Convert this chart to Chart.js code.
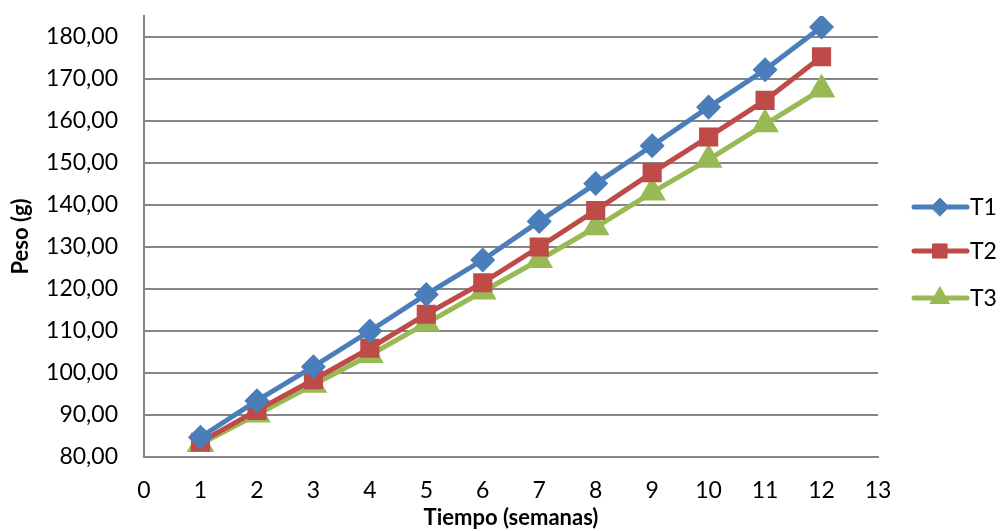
<!DOCTYPE html>
<html>
<head>
<meta charset="utf-8">
<script src="https://cdn.jsdelivr.net/npm/chart.js@4"></script>
<style>
  body { margin: 0; background: #fff; }
  #wrap { width: 1000px; height: 531px; }
</style>
</head>
<body>
<div id="wrap"><canvas id="lineChart"></canvas></div>
<script>
const semanas = [ 1, 2, 3, 4, 5, 6, 7, 8, 9, 10, 11, 12 ];
const t1 = [ 84.7, 93.4, 101.5, 110.0, 118.7, 126.9, 136.1, 145.1, 154.1, 163.3, 172.2, 182.4 ];
const t2 = [ 83.5, 91.1, 98.4, 105.9, 114.0, 121.5, 130.0, 138.7, 147.7, 156.2, 164.9, 175.3 ];
const t3 = [ 83.1, 90.1, 97.2, 104.3, 111.8, 119.4, 126.9, 134.7, 143.0, 150.8, 159.2, 167.5 ];
const yTicks = [ 80, 90, 100, 110, 120, 130, 140, 150, 160, 170, 180 ];

const font = 'Lato, "Liberation Sans", sans-serif';

function pts(vals) {
	return vals.map((v, i) => ({ x: semanas[i], y: v }));
}

// legend drawn by hand: line with marker in the middle
const sideLegend = {
	id: 'sideLegend',
	afterDraw(chart) {
		const ctx = chart.ctx;
		const rows = [ 207, 251, 298 ];
		chart.data.datasets.forEach((ds, i) => {
			const y = rows[i];
			ctx.save();
			ctx.strokeStyle = ds.borderColor;
			ctx.lineWidth = 5;
			ctx.lineCap = 'round';
			ctx.beginPath();
			ctx.moveTo(914, y);
			ctx.lineTo(967, y);
			ctx.stroke();
			ctx.fillStyle = ds.pointBackgroundColor;
			ctx.strokeStyle = ds.pointBorderColor;
			ctx.lineWidth = 1;
			Chart.helpers.drawPoint(ctx, { pointStyle: ds.pointStyle, radius: ds.pointRadius, borderWidth: 1 }, 940, y);
			ctx.fillStyle = '#000';
			ctx.font = '23px ' + font;
			ctx.textBaseline = 'middle';
			ctx.fillText(ds.label, 970, y + 1);
			ctx.restore();
		});
	}
};

const lineChart = new Chart(document.getElementById('lineChart').getContext('2d'), {
	type: 'line',
	data: {
		datasets: [
			{
				label: 'T1',
				data: pts(t1),
				borderColor: '#4A7EBB',
				pointBackgroundColor: '#4A7EBB',
				pointBorderColor: '#4A7EBB',
				pointStyle: 'rectRot',
				pointRadius: 9,
				borderWidth: 5
			},
			{
				label: 'T2',
				data: pts(t2),
				borderColor: '#BE4B48',
				pointBackgroundColor: '#BE4B48',
				pointBorderColor: '#BE4B48',
				pointStyle: 'rect',
				pointRadius: 10,
				borderWidth: 5
			},
			{
				label: 'T3',
				data: pts(t3),
				borderColor: '#98B954',
				pointBackgroundColor: '#98B954',
				pointBorderColor: '#98B954',
				pointStyle: 'triangle',
				pointRadius: 11,
				borderWidth: 5
			}
		]
	},
	options: {
		responsive: true,
		maintainAspectRatio: false,
		animation: false,
		layout: { padding: { top: 10, right: 122, left: 8, bottom: 0 } },
		plugins: {
			legend: { display: false },
			tooltip: { enabled: false }
		},
		scales: {
			x: {
				type: 'linear',
				min: 0,
				max: 13,
				afterFit: s => { s.height = 74; },
				ticks: { stepSize: 1, color: '#000', font: { family: font, size: 23 }, padding: 20 },
				grid: { display: false, drawTicks: false },
				border: { color: '#868686', width: 2 },
				title: {
					display: true,
					text: 'Tiempo (semanas)',
					color: '#000',
					font: { family: font, size: 22, weight: 'bold' },
					padding: { top: 0, bottom: 0 }
				}
			},
			y: {
				min: 80,
				max: 185,
				afterFit: s => { s.width = 136; s.paddingTop = 0; s.paddingBottom = 0; },
				afterBuildTicks: s => { s.ticks = yTicks.map(v => ({ value: v })); },
				ticks: {
					color: '#000',
					font: { family: font, size: 23 },
					padding: 26,
					callback: v => v.toFixed(2).replace('.', ',')
				},
				grid: { color: '#868686', lineWidth: 2, drawTicks: false },
				border: { color: '#868686', width: 2 },
				title: {
					display: true,
					text: 'Peso (g)',
					color: '#000',
					font: { family: font, size: 22, weight: 'bold' },
					padding: { top: 0, bottom: 0 }
				}
			}
		}
	},
	plugins: [ sideLegend ]
});
</script>
</body>
</html>
